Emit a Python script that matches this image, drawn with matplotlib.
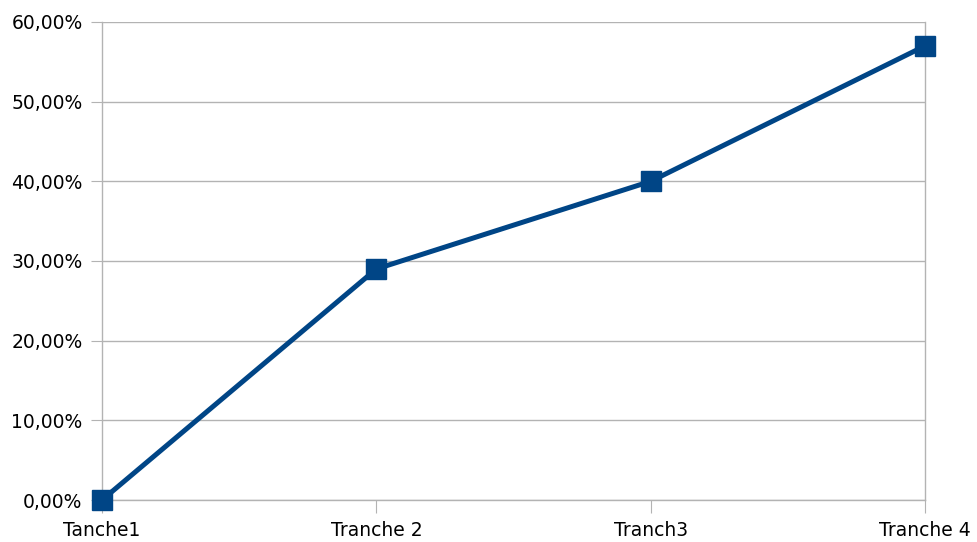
import matplotlib.pyplot as plt
from matplotlib.ticker import FuncFormatter

categories = ['Tanche1', 'Tranche 2', 'Tranch3', 'Tranche 4']
values = [0.0, 29.0, 40.0, 57.0]

grid_col = '#b3b3b3'
line_col = '#004586'

fig = plt.figure(figsize=(9.77, 5.42), dpi=100)
ax = fig.add_axes([102 / 977, 42 / 542, 823 / 977, 478 / 542])

x = range(len(categories))
ax.plot(x, values, color=line_col, linewidth=3.6, marker='s',
        markersize=14, clip_on=False, zorder=3)

ax.set_xlim(0, len(categories) - 1)
ax.set_ylim(0, 60)
ax.set_yticks(range(0, 61, 10))
ax.yaxis.set_major_formatter(
    FuncFormatter(lambda v, p: f'{v:.2f}'.replace('.', ',') + '%'))
ax.set_xticks(list(x))
ax.set_xticklabels(categories)

ax.grid(axis='y', color=grid_col, linewidth=1)
ax.set_axisbelow(True)
ax.spines['top'].set_visible(False)
for side in ['left', 'right', 'bottom']:
    ax.spines[side].set_color(grid_col)
    ax.spines[side].set_linewidth(1)

ax.tick_params(axis='y', length=8, color=grid_col, labelsize=13.5, pad=6)
ax.tick_params(axis='x', length=9, color=grid_col, labelsize=13.5, pad=6)

fig.savefig('out.png', dpi=100)
